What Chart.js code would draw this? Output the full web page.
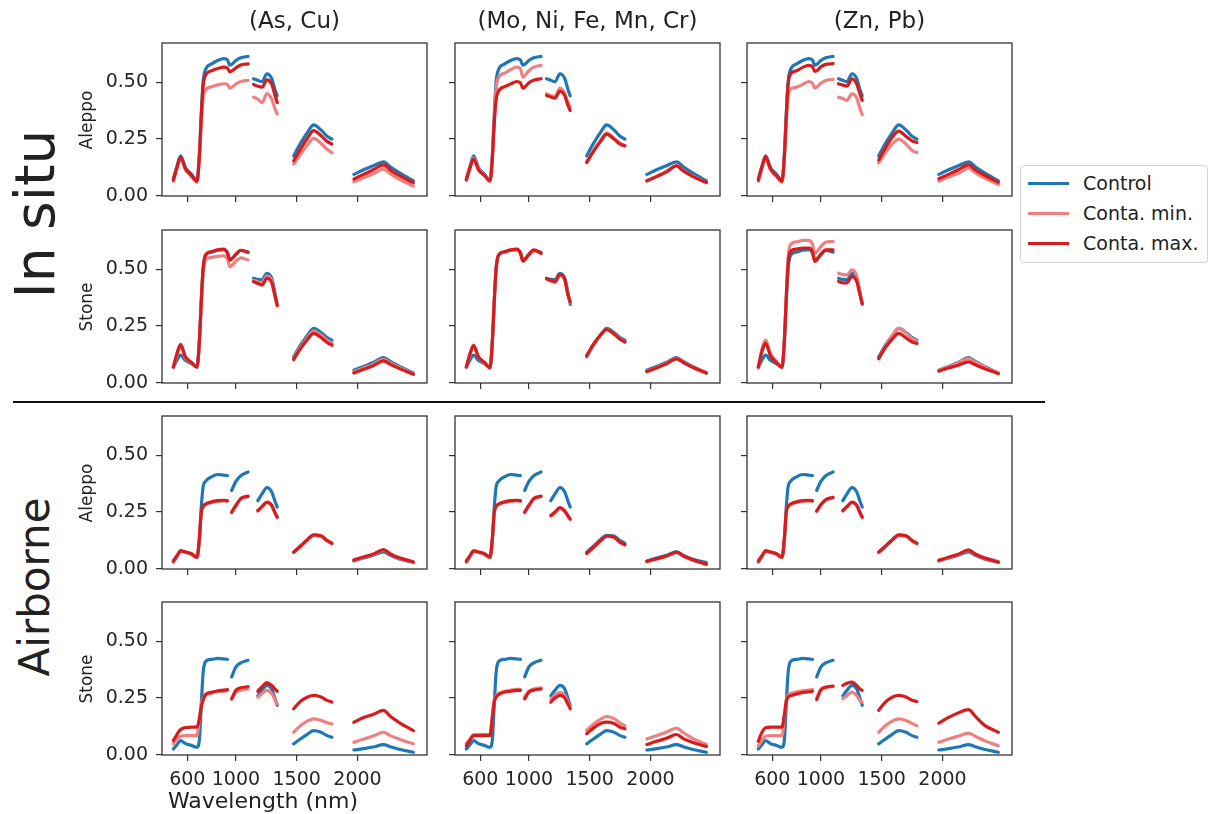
<!DOCTYPE html>
<html>
<head>
<meta charset="utf-8">
<script src="https://cdn.jsdelivr.net/npm/chart.js@4.4.1/dist/chart.umd.min.js"></script>
<style>
  body { margin: 0; background: #fff; width: 1208px; height: 814px; position: relative; overflow: hidden;
         font-family: "DejaVu Sans", sans-serif; color: #222; }
  canvas { position: absolute; }
  .txt { position: absolute; white-space: nowrap; transform: translate(-50%, -50%); line-height: 1; }
  .rot { transform: translate(-50%, -50%) rotate(-90deg); }
  #legend { position: absolute; left: 1020px; top: 165px; width: 186px; height: 96px;
            border: 1px solid #d4d4d4; border-radius: 4px; background: #fff; }
  .lg-line { position: absolute; left: 7px; width: 41px; height: 3px; }
  .lg-text { position: absolute; left: 62px; font-size: 19px; line-height: 1; transform: translateY(-50%); }
  #sep { position: absolute; left: 13px; top: 401px; width: 1032px; height: 2px; background: #111; }
</style>
</head>
<body>
<div id="sep"></div>
<div id="legend"></div>
<script>
// wavelengths (nm); null values in the series mark the removed bands
const wavelengths = [485, 515, 545, 585, 635, 680, 700, 715, 730, 750, 800, 850, 900, 930, 950, 965, 1000, 1040, 1100,
  1125, 1145, 1180, 1215, 1255, 1295, 1320, 1340,
  1400, 1475, 1530, 1590, 1640, 1700, 1750, 1790,
  1880, 1970, 2050, 2130, 2215, 2270, 2350, 2460];

const xTicks = [600, 1000, 1500, 2000];
const yTicks = [0, 0.25, 0.5];
const columns = ["(As, Cu)", "(Mo, Ni, Fe, Mn, Cr)", "(Zn, Pb)"];
const rowNames = ["Aleppo", "Stone", "Aleppo", "Stone"];
const seriesNames = ["Control", "Conta. min.", "Conta. max."];

// In situ - Aleppo
const ctrl_IA = [0.075,0.13,0.176,0.125,0.095,0.07,0.19,0.36,0.50,0.555,0.58,0.595,0.603,0.598,0.575,0.578,0.595,0.607,0.613, null,
  0.515,0.508,0.502,0.537,0.515,0.47,0.44, null, 0.176,0.23,0.28,0.312,0.29,0.262,0.25, null, 0.095,0.115,0.133,0.15,0.128,0.1,0.066];
const min_IA_1 = [0.065,0.12,0.165,0.115,0.085,0.06,0.17,0.32,0.43,0.465,0.48,0.488,0.493,0.49,0.474,0.477,0.492,0.503,0.508, null,
  0.434,0.425,0.41,0.45,0.425,0.385,0.36, null, 0.14,0.182,0.225,0.253,0.232,0.205,0.19, null, 0.062,0.08,0.098,0.118,0.098,0.072,0.044];
const max_IA_1 = [0.07,0.125,0.17,0.12,0.09,0.065,0.18,0.35,0.48,0.53,0.55,0.56,0.566,0.562,0.545,0.548,0.563,0.575,0.58, null,
  0.49,0.482,0.478,0.51,0.49,0.445,0.41, null, 0.154,0.205,0.255,0.287,0.265,0.24,0.228, null, 0.074,0.095,0.115,0.137,0.115,0.088,0.059];
const min_IA_2 = [0.072,0.128,0.168,0.12,0.092,0.068,0.18,0.34,0.47,0.52,0.54,0.555,0.566,0.56,0.522,0.528,0.55,0.566,0.574, null,
  0.449,0.44,0.438,0.474,0.45,0.41,0.39, null, 0.15,0.198,0.245,0.276,0.254,0.232,0.222, null, 0.068,0.087,0.108,0.134,0.112,0.087,0.06];
const max_IA_2 = [0.07,0.122,0.162,0.115,0.09,0.065,0.17,0.32,0.42,0.46,0.48,0.492,0.503,0.498,0.474,0.478,0.497,0.508,0.515, null,
  0.441,0.435,0.43,0.46,0.44,0.4,0.375, null, 0.147,0.195,0.24,0.272,0.25,0.228,0.22, null, 0.066,0.085,0.105,0.132,0.11,0.085,0.059];
const min_IA_3 = [0.065,0.12,0.165,0.115,0.085,0.06,0.17,0.32,0.43,0.47,0.478,0.49,0.503,0.495,0.474,0.478,0.495,0.507,0.512, null,
  0.434,0.428,0.42,0.449,0.43,0.385,0.357, null, 0.145,0.19,0.23,0.25,0.228,0.2,0.191, null, 0.065,0.083,0.1,0.122,0.102,0.078,0.05];
const max_IA_3 = [0.07,0.128,0.172,0.12,0.09,0.065,0.18,0.35,0.49,0.535,0.55,0.565,0.574,0.568,0.547,0.55,0.567,0.578,0.581, null,
  0.493,0.487,0.483,0.515,0.492,0.45,0.42, null, 0.158,0.21,0.26,0.285,0.262,0.242,0.235, null, 0.076,0.095,0.115,0.137,0.115,0.09,0.06];

// In situ - Stone
const ctrl_IS = [0.07,0.1,0.122,0.1,0.085,0.07,0.19,0.36,0.5,0.56,0.575,0.583,0.586,0.572,0.54,0.545,0.565,0.582,0.575, null,
  0.46,0.455,0.453,0.482,0.46,0.4,0.345, null, 0.115,0.165,0.21,0.24,0.222,0.2,0.188, null, 0.056,0.073,0.09,0.112,0.095,0.072,0.044];
const min_IS_1 = [0.068,0.122,0.16,0.11,0.088,0.068,0.18,0.34,0.48,0.54,0.552,0.556,0.558,0.545,0.51,0.515,0.535,0.55,0.54, null,
  0.45,0.445,0.44,0.47,0.45,0.39,0.342, null, 0.108,0.156,0.2,0.228,0.21,0.188,0.176, null, 0.05,0.066,0.083,0.104,0.088,0.067,0.041];
const max_IS_1 = [0.07,0.13,0.17,0.115,0.09,0.07,0.19,0.36,0.5,0.562,0.577,0.585,0.588,0.572,0.54,0.545,0.565,0.583,0.574, null,
  0.445,0.437,0.43,0.46,0.44,0.385,0.34, null, 0.103,0.15,0.192,0.218,0.2,0.178,0.166, null, 0.044,0.06,0.076,0.097,0.082,0.062,0.038];
const min_IS_2 = [0.07,0.125,0.16,0.113,0.088,0.067,0.19,0.36,0.5,0.56,0.575,0.582,0.585,0.57,0.537,0.542,0.563,0.58,0.572, null,
  0.456,0.448,0.444,0.474,0.452,0.39,0.352, null, 0.118,0.168,0.21,0.236,0.217,0.194,0.182, null, 0.052,0.068,0.086,0.108,0.092,0.07,0.046];
const max_IS_2 = [0.07,0.128,0.165,0.115,0.09,0.066,0.19,0.36,0.5,0.562,0.577,0.585,0.588,0.572,0.535,0.54,0.565,0.585,0.57, null,
  0.459,0.45,0.445,0.476,0.455,0.39,0.356, null, 0.12,0.17,0.212,0.235,0.215,0.192,0.18, null, 0.05,0.066,0.084,0.106,0.09,0.068,0.044];
const min_IS_3 = [0.065,0.15,0.188,0.13,0.095,0.07,0.2,0.39,0.55,0.608,0.62,0.626,0.626,0.61,0.57,0.575,0.6,0.618,0.622, null,
  0.482,0.476,0.475,0.497,0.47,0.4,0.35, null, 0.107,0.16,0.21,0.24,0.22,0.195,0.185, null, 0.056,0.072,0.088,0.107,0.091,0.07,0.045];
const max_IS_3 = [0.07,0.138,0.174,0.12,0.09,0.068,0.19,0.37,0.52,0.578,0.588,0.592,0.593,0.578,0.534,0.54,0.565,0.585,0.585, null,
  0.446,0.44,0.44,0.468,0.445,0.39,0.35, null, 0.107,0.155,0.195,0.218,0.198,0.18,0.174, null, 0.052,0.066,0.078,0.093,0.08,0.062,0.041];

// Airborne - Aleppo
const ctrl_AA = [0.03,0.055,0.08,0.074,0.065,0.05,0.13,0.27,0.36,0.385,0.405,0.415,0.412,0.41, null, 0.345,0.385,0.41,0.426, null,
  null,0.3,0.33,0.357,0.338,0.3,0.272, null, 0.074,0.1,0.13,0.148,0.145,0.125,0.113, null, 0.035,0.048,0.06,0.075,0.06,0.043,0.028];
const min_AA_1 = [0.033,0.056,0.078,0.073,0.065,0.05,0.137,0.247,0.272,0.282,0.292,0.297,0.299,0.297, null, 0.247,0.277,0.307,0.317, null,
  null,0.254,0.272,0.291,0.277,0.247,0.225, null, 0.072,0.098,0.128,0.148,0.144,0.123,0.111, null, 0.038,0.051,0.064,0.083,0.064,0.046,0.03];
const max_AA_1 = [0.035,0.058,0.08,0.075,0.067,0.052,0.14,0.25,0.275,0.285,0.295,0.3,0.302,0.3, null, 0.25,0.28,0.31,0.32, null,
  null,0.257,0.275,0.294,0.28,0.25,0.228, null, 0.074,0.1,0.13,0.15,0.146,0.125,0.113, null, 0.04,0.053,0.066,0.085,0.066,0.048,0.032];
const min_AA_2 = [0.033,0.056,0.078,0.073,0.065,0.05,0.137,0.247,0.272,0.282,0.292,0.297,0.299,0.297, null, 0.247,0.277,0.307,0.317, null,
  null,0.232,0.247,0.267,0.252,0.232,0.217, null, 0.067,0.093,0.123,0.143,0.138,0.116,0.105, null, 0.032,0.043,0.055,0.072,0.056,0.038,0.02];
const max_AA_2 = [0.035,0.058,0.08,0.075,0.067,0.052,0.14,0.25,0.275,0.285,0.295,0.3,0.302,0.3, null, 0.25,0.28,0.31,0.32, null,
  null,0.235,0.25,0.27,0.255,0.235,0.22, null, 0.069,0.095,0.125,0.145,0.14,0.118,0.107, null, 0.034,0.045,0.057,0.074,0.058,0.04,0.022];
const min_AA_3 = [0.033,0.056,0.078,0.073,0.065,0.05,0.137,0.247,0.272,0.282,0.292,0.297,0.299,0.297, null, 0.252,0.28,0.302,0.312, null,
  null,0.254,0.272,0.291,0.277,0.247,0.225, null, 0.072,0.098,0.128,0.148,0.144,0.123,0.111, null, 0.036,0.05,0.063,0.082,0.064,0.046,0.03];
const max_AA_3 = [0.035,0.058,0.08,0.075,0.067,0.052,0.14,0.25,0.275,0.285,0.295,0.3,0.302,0.3, null, 0.255,0.283,0.305,0.315, null,
  null,0.257,0.275,0.294,0.28,0.25,0.228, null, 0.074,0.1,0.13,0.15,0.146,0.125,0.113, null, 0.038,0.052,0.065,0.084,0.066,0.048,0.032];

// Airborne - Stone
const ctrl_AS = [0.026,0.045,0.063,0.05,0.042,0.034,0.07,0.22,0.36,0.41,0.42,0.424,0.422,0.42, null, 0.343,0.387,0.405,0.416, null,
  null,0.26,0.285,0.306,0.29,0.25,0.218, null, 0.049,0.07,0.092,0.107,0.1,0.085,0.078, null, 0.022,0.028,0.035,0.046,0.036,0.024,0.012];
const min_AS_1 = [0.049,0.07,0.082,0.085,0.085,0.085,0.16,0.225,0.25,0.262,0.272,0.278,0.28,0.282, null, 0.245,0.275,0.285,0.29, null,
  null,0.254,0.27,0.284,0.27,0.245,0.225, null, 0.1,0.128,0.15,0.159,0.152,0.142,0.137, null, 0.056,0.07,0.083,0.1,0.085,0.068,0.049];
const max_AS_1 = [0.063,0.09,0.112,0.12,0.122,0.122,0.16,0.21,0.24,0.265,0.275,0.282,0.285,0.287, null, 0.247,0.284,0.295,0.3, null,
  null,0.28,0.3,0.318,0.305,0.29,0.28, null, 0.203,0.235,0.255,0.262,0.255,0.24,0.232, null, 0.144,0.165,0.178,0.196,0.17,0.14,0.107];
const min_AS_2 = [0.05,0.07,0.09,0.09,0.09,0.09,0.17,0.24,0.26,0.27,0.28,0.285,0.288,0.288, null, 0.255,0.28,0.29,0.295, null,
  null,0.245,0.262,0.275,0.262,0.235,0.213, null, 0.107,0.135,0.158,0.169,0.16,0.14,0.129, null, 0.07,0.085,0.1,0.118,0.098,0.072,0.046];
const max_AS_2 = [0.04,0.065,0.085,0.085,0.086,0.086,0.17,0.235,0.254,0.265,0.276,0.28,0.284,0.284, null, 0.247,0.276,0.285,0.29, null,
  null,0.232,0.25,0.262,0.25,0.225,0.203, null, 0.093,0.118,0.138,0.144,0.138,0.122,0.115, null, 0.046,0.06,0.073,0.09,0.072,0.055,0.037];
const min_AS_3 = [0.04,0.065,0.082,0.085,0.085,0.085,0.17,0.24,0.262,0.27,0.277,0.282,0.285,0.287, null, 0.25,0.29,0.298,0.3, null,
  null,0.247,0.262,0.276,0.26,0.24,0.232, null, 0.1,0.128,0.15,0.159,0.152,0.138,0.129, null, 0.056,0.07,0.083,0.096,0.082,0.062,0.041];
const max_AS_3 = [0.06,0.1,0.12,0.122,0.122,0.122,0.18,0.235,0.254,0.26,0.268,0.275,0.277,0.28, null, 0.243,0.285,0.298,0.303, null,
  null,0.306,0.315,0.32,0.305,0.29,0.284, null, 0.196,0.232,0.255,0.262,0.255,0.24,0.235, null, 0.14,0.165,0.185,0.199,0.17,0.129,0.1];

const grid = [
  [[ctrl_IA, min_IA_1, max_IA_1], [ctrl_IA, min_IA_2, max_IA_2], [ctrl_IA, min_IA_3, max_IA_3]],
  [[ctrl_IS, min_IS_1, max_IS_1], [ctrl_IS, min_IS_2, max_IS_2], [ctrl_IS, min_IS_3, max_IS_3]],
  [[ctrl_AA, min_AA_1, max_AA_1], [ctrl_AA, min_AA_2, max_AA_2], [ctrl_AA, min_AA_3, max_AA_3]],
  [[ctrl_AS, min_AS_1, max_AS_1], [ctrl_AS, min_AS_2, max_AS_2], [ctrl_AS, min_AS_3, max_AS_3]]
];

const colors = ["#1f77b4", "#f08080", "#d61c1c"];
const FONT = "DejaVu Sans";

// panel plot areas
const plotLefts = [162, 455, 747];
const plotTops = [43, 230, 416, 602];
const PW = 265, PH = 153;
const YW = 75, XH = 40, PT = 22, PR = 8;

const framePlugin = {
  id: "frame",
  afterDatasetsDraw(chart) {
    const { ctx, chartArea: a } = chart;
    ctx.save();
    ctx.strokeStyle = "#333";
    ctx.lineWidth = 1.3;
    ctx.strokeRect(a.left, a.top, a.right - a.left, a.bottom - a.top);
    ctx.restore();
  }
};

function addText(text, x, y, size, rotate) {
  const d = document.createElement("div");
  d.className = "txt" + (rotate ? " rot" : "");
  d.style.left = x + "px";
  d.style.top = y + "px";
  d.style.fontSize = size + "px";
  d.textContent = text;
  document.body.appendChild(d);
}

for (let r = 0; r < 4; r++) {
  for (let c = 0; c < 3; c++) {
    const cv = document.createElement("canvas");
    cv.width = YW + PW + PR;
    cv.height = PT + PH + XH;
    cv.style.left = (plotLefts[c] - YW) + "px";
    cv.style.top = (plotTops[r] - PT) + "px";
    document.body.appendChild(cv);

    const series = grid[r][c];
    const bottomRow = r === 3, firstCol = c === 0;

    new Chart(cv, {
      type: "line",
      data: {
        datasets: series.map((vals, k) => ({
          label: seriesNames[k],
          data: wavelengths.map((w, i) => ({ x: w, y: vals[i] })),
          borderColor: colors[k],
          order: 3 - k
        }))
      },
      options: {
        responsive: false,
        animation: false,
        devicePixelRatio: 1,
        layout: { padding: { top: PT, right: PR, left: 0, bottom: 0 } },
        plugins: { legend: { display: false }, tooltip: { enabled: false } },
        elements: {
          point: { radius: 0 },
          line: { borderWidth: 3.2, cubicInterpolationMode: "monotone", borderCapStyle: "round", borderJoinStyle: "round" }
        },
        scales: {
          x: {
            type: "linear", min: 392, max: 2572,
            afterBuildTicks: s => { s.ticks = xTicks.map(v => ({ value: v })); },
            afterFit: s => { s.height = XH; },
            grid: { drawOnChartArea: false, drawTicks: true, tickLength: 6, color: "#333", lineWidth: 1.2 },
            border: { display: false },
            ticks: { autoSkip: false, maxRotation: 0, padding: 8, color: "#262626",
                     font: { family: FONT, size: 19 },
                     callback: v => bottomRow ? String(v) : "" }
          },
          y: {
            min: 0, max: 0.672,
            afterBuildTicks: s => { s.ticks = yTicks.map(v => ({ value: v })); },
            afterFit: s => { s.width = YW; },
            grid: { drawOnChartArea: false, drawTicks: true, tickLength: 6, color: "#333", lineWidth: 1.2 },
            border: { display: false },
            ticks: { autoSkip: false, padding: 8, color: "#262626",
                     font: { family: FONT, size: 19 },
                     callback: v => firstCol ? v.toFixed(2) : "" }
          }
        }
      },
      plugins: [framePlugin]
    });
  }
}

// column titles
columns.forEach((t, c) => addText(t, plotLefts[c] + PW / 2, 20, 23));
// row labels
rowNames.forEach((t, r) => addText(t, 86, plotTops[r] + PH / 2, 17, true));
addText("In situ", 35, 214, 55, true);
addText("Airborne", 35, 587, 42, true);
addText("Wavelength (nm)", 263, 801, 22);

// legend
const lg = document.getElementById("legend");
seriesNames.forEach((name, k) => {
  const y = 17 + k * 30;
  const ln = document.createElement("div");
  ln.className = "lg-line";
  ln.style.top = (y - 1.5) + "px";
  ln.style.background = colors[k];
  lg.appendChild(ln);
  const tx = document.createElement("div");
  tx.className = "lg-text";
  tx.style.top = y + "px";
  tx.textContent = name;
  lg.appendChild(tx);
});
</script>
</body>
</html>
